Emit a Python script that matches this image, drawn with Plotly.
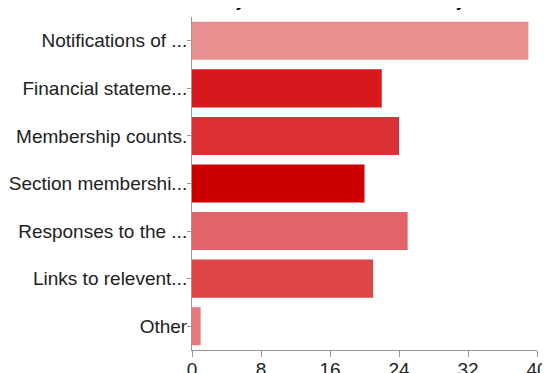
import plotly.graph_objects as go

categories = [
    "Notifications of ...",
    "Financial stateme...",
    "Membership counts.",
    "Section membershi...",
    "Responses to the ...",
    "Links to relevent...",
    "Other",
]
values = [39, 22, 24, 20, 25, 21, 1]
colors = ["#EA8F8F", "#D5191D", "#DC3134", "#CC0000", "#E06468", "#DD4547", "#E8787B"]
x_ticks = [0, 8, 16, 24, 32, 40]
title_text = "What information would you like to see on the monthly email?"

fig = go.Figure(
    go.Bar(
        y=categories,
        x=values,
        orientation="h",
        marker=dict(color=colors, line=dict(width=0)),
    )
)

fig.update_layout(
    width=550,
    height=373,
    margin=dict(l=184, r=21, t=9, b=31),
    paper_bgcolor="white",
    plot_bgcolor="white",
    bargap=0.2,
    showlegend=False,
    font=dict(family="Liberation Sans, Arial, sans-serif", size=19, color="#222222"),
)

fig.add_annotation(
    text="<b>" + title_text + "</b>",
    xref="paper", yref="paper", x=0.5, y=1,
    xanchor="center", yanchor="bottom", yshift=5, xshift=-80,
    showarrow=False,
    font=dict(size=16, color="#000000"),
)

fig.update_xaxes(
    range=[0, 40],
    tickvals=x_ticks,
    showgrid=False,
    zeroline=False,
    showline=True,
    linecolor="#999999",
    linewidth=1,
    ticks="outside",
    ticklen=6,
    tickcolor="#999999",
    tickfont=dict(size=19, color="#222222"),
    ticklabelstandoff=-4,
    automargin=False,
)
fig.update_yaxes(
    autorange="reversed",
    showgrid=False,
    showline=True,
    linecolor="#999999",
    linewidth=1,
    ticks="outside",
    ticklen=4,
    tickcolor="#999999",
    tickfont=dict(size=19, color="#222222"),
    ticklabelstandoff=-4,
    automargin=False,
)

fig.write_html("out.html")
